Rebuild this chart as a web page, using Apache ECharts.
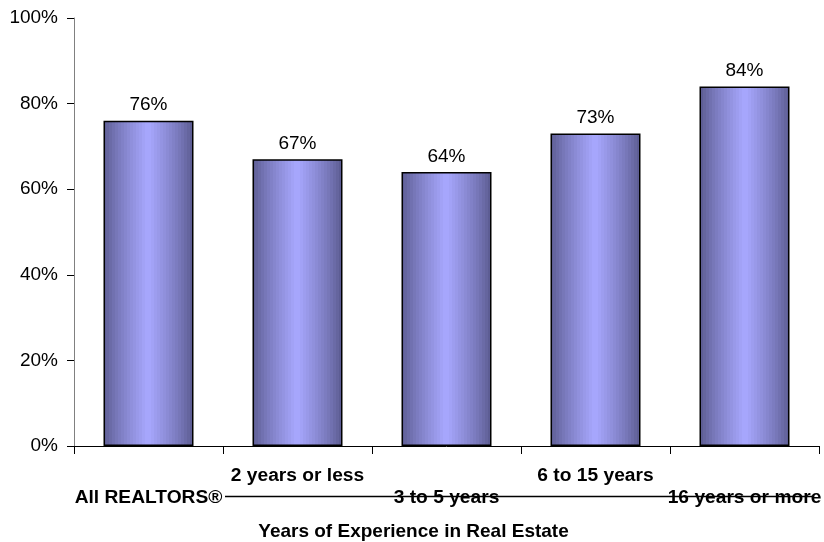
<!DOCTYPE html>
<html>
<head>
<meta charset="utf-8">
<script src="https://cdn.jsdelivr.net/npm/echarts@6/dist/echarts.min.js"></script>
<style>
  html, body { margin: 0; padding: 0; background: #fff; }
  #chart { width: 824px; height: 542px; }
</style>
</head>
<body>
<div id="chart"></div>
<script>
// Share of agents, by years of experience
const categories = ['All REALTORS®', '2 years or less', '3 to 5 years', '6 to 15 years', '16 years or more'];
const shares = [76, 67, 64, 73, 84];
const yTicks = { min: 0, max: 100, interval: 20 };
const axisTitle = 'Years of Experience in Real Estate';

// Banded horizontal shading: dark edges, light middle
function bandedFill() {
  const dark = [88, 88, 140], light = [168, 168, 255];
  const bands = 30, stops = [];
  for (let i = 0; i < bands; i++) {
    const mid = (i + 0.5) / bands;
    const t = 1 - Math.abs(mid - 0.5) * 2;
    const c = dark.map((d, k) => Math.round(d + (light[k] - d) * Math.pow(t, 0.8)));
    const col = 'rgb(' + c.join(',') + ')';
    stops.push({ offset: i / bands, color: col });
    stops.push({ offset: (i + 1) / bands, color: col });
  }
  return new echarts.graphic.LinearGradient(0, 0, 1, 0, stops);
}

const font = 'Liberation Sans, Arial, sans-serif';
const chart = echarts.init(document.getElementById('chart'), null, { renderer: 'canvas' });
chart.setOption({
  animation: false,
  grid: { left: 74, right: 5, top: 18, bottom: 96, containLabel: false, outerBoundsMode: 'none' },
  xAxis: {
    type: 'category',
    data: categories,
    axisLine: { lineStyle: { color: '#000', width: 1 } },
    axisTick: { show: true, length: 8, lineStyle: { color: '#000' } },
    axisLabel: {
      interval: 0,
      margin: 19,
      fontFamily: font,
      fontSize: 19.2,
      fontWeight: 'bold',
      color: '#000',
      lineHeight: 22,
      formatter: (v, i) => (i % 2 === 0 ? '\n' + v : v)
    },
    name: axisTitle,
    nameLocation: 'middle',
    nameGap: 76,
    nameTextStyle: {
      fontFamily: font, fontSize: 19, fontWeight: 'bold', color: '#000',
      padding: [0, 66, 0, 0]
    }
  },
  yAxis: {
    type: 'value',
    min: yTicks.min, max: yTicks.max, interval: yTicks.interval,
    axisLine: { show: true, lineStyle: { color: '#808080' } },
    axisTick: { show: true, length: 7, lineStyle: { color: '#000' } },
    splitLine: { show: false },
    axisLabel: {
      margin: 16,
      fontFamily: font, fontSize: 19, color: '#000',
      formatter: v => v + '%'
    }
  },
  series: [{
    type: 'bar',
    data: shares,
    barWidth: 90,
    itemStyle: { color: bandedFill(), borderColor: '#000', borderWidth: 1.5 },
    label: {
      show: true, position: 'top', distance: 6,
      fontFamily: font, fontSize: 19, color: '#000',
      formatter: p => p.value + '%'
    }
  }],
  graphic: [{
    type: 'line',
    shape: { x1: 225, y1: 496.5, x2: 812, y2: 496.5 },
    style: { stroke: '#000', lineWidth: 1.5 },
    z: 100
  }]
});
</script>
</body>
</html>
